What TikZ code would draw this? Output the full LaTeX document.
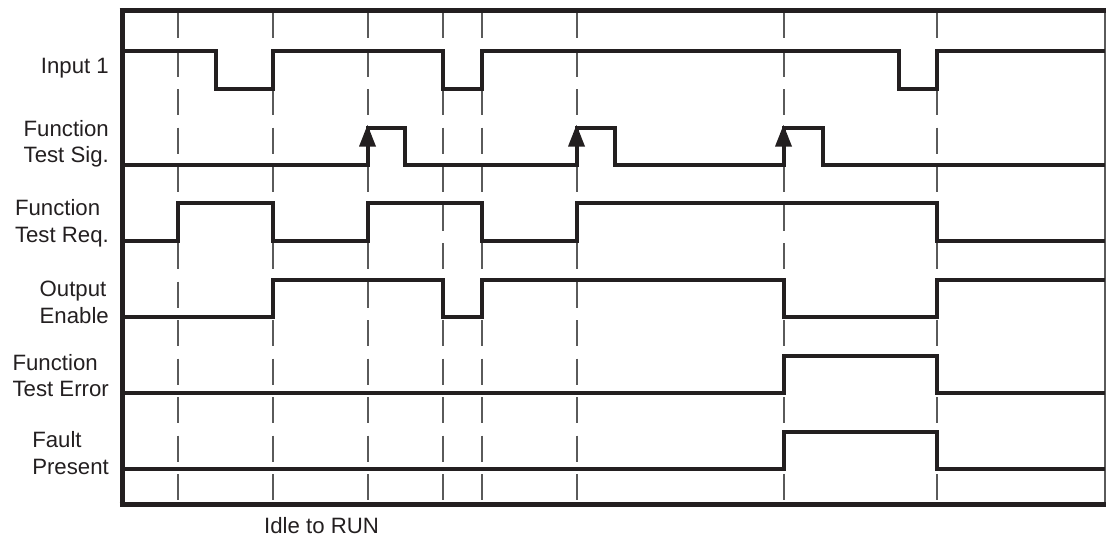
\documentclass[tikz,border=0pt]{standalone}
\usepackage{fontspec}
\setmainfont{Liberation Sans}
\definecolor{ink}{HTML}{231F20}
\definecolor{dashgray}{HTML}{5A5A5A}
\begin{document}
\begin{tikzpicture}[x=1pt,y=-1pt,
  sig/.style={draw=ink,line width=4pt,line join=miter,line cap=butt},
  frame/.style={draw=ink,line width=5pt},
  guide/.style={draw=dashgray,line width=1.8pt,dash pattern=on 26pt off 12.5pt},
  lbl/.style={font=\fontsize{22.2}{26.5}\selectfont,inner sep=0pt,text=ink,anchor=base east},
  top/.style={font=\fontsize{22.2}{26.5}\selectfont,inner sep=0pt,text=ink,anchor=base west},
  tip/.style={fill=ink}]
\useasboundingbox (0,0) rectangle (1106,538);
% dashed guide lines
\foreach \x in {178,273,368,443,482,577,784,937}
  \draw[guide] (\x,12) -- (\x,503);
% frame
\draw[draw=dashgray,line width=1.5pt] (1105,10.5) -- (1105,504);
\draw[frame] (122,8.5) -- (122,506.5);
\draw[frame] (119.5,10.8) -- (1106,10.8);
\draw[frame] (119.5,504.2) -- (1106,504.2);
% Input 1
\draw[sig] (122,51) -- (216,51) -- (216,89) -- (273,89) -- (273,51) -- (443,51) -- (443,89) -- (482,89) -- (482,51) -- (899,51) -- (899,89) -- (937,89) -- (937,51) -- (1105,51);
% Function Test Sig.
\draw[sig] (122,165) -- (368,165) -- (368,128) -- (405,128) -- (405,165) -- (577,165) -- (577,128) -- (615,128) -- (615,165) -- (784,165) -- (784,128) -- (823,128) -- (823,165) -- (1105,165);
\foreach \x in {367.5,576.5,783.5}
  \fill[tip] (\x-8.5,146.5) -- (\x+8.5,146.5) -- (\x,125) -- cycle;
% Function Test Req.
\draw[sig] (122,241) -- (178,241) -- (178,203) -- (273,203) -- (273,241) -- (368,241) -- (368,203) -- (482,203) -- (482,241) -- (577,241) -- (577,203) -- (937,203) -- (937,241) -- (1105,241);
% Output Enable
\draw[sig] (122,317) -- (273,317) -- (273,280) -- (443,280) -- (443,317) -- (482,317) -- (482,280) -- (784,280) -- (784,317) -- (937,317) -- (937,280) -- (1105,280);
% Function Test Error
\draw[sig] (122,393) -- (784,393) -- (784,356) -- (937,356) -- (937,393) -- (1105,393);
% Fault Present
\draw[sig] (122,469.3) -- (784,469.3) -- (784,431.7) -- (937,431.7) -- (937,469.3) -- (1105,469.3);
% labels
\node[lbl] (in1) at (109,73.5) {Input 1};
\node[lbl] (fts2) at (109,162.5) {Test Sig.};
\node[top] (fts1) at ([yshift=26.5pt]fts2.base west) {Function};
\node[lbl] (ftr2) at (109,242) {Test Req.};
\node[top] (ftr1) at ([yshift=26.5pt]ftr2.base west) {Function};
\node[lbl] (oe2) at (109,323) {Enable};
\node[top] (oe1) at ([yshift=26.5pt]oe2.base west) {Output};
\node[lbl] (fte2) at (109,396.5) {Test Error};
\node[top] (fte1) at ([yshift=26.5pt]fte2.base west) {Function};
\node[lbl] (fp2) at (109,474.2) {Present};
\node[top] (fp1) at ([yshift=26.5pt]fp2.base west) {Fault};
\node[top] (idle) at (264,533.5) {Idle to RUN};
\end{tikzpicture}
\end{document}
